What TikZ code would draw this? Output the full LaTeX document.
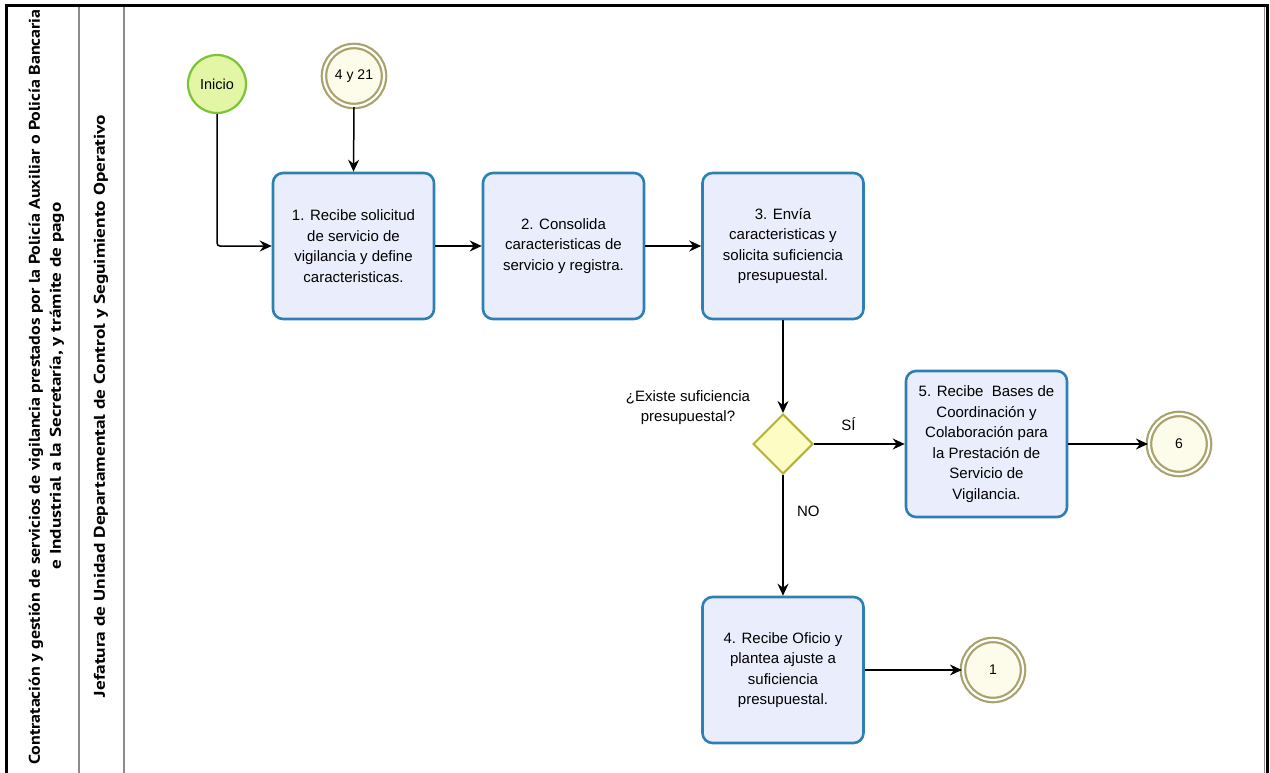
\documentclass[tikz,border=0pt]{standalone}
\usepackage{fontspec}
\usepackage{graphicx}
\setmainfont{Liberation Sans}
\newfontfamily\lanefont{PT Sans}
\usetikzlibrary{arrows.meta,shapes.geometric}

\definecolor{taskfill}{HTML}{EAEEFC}
\definecolor{taskline}{HTML}{2E80B4}
\definecolor{gatefill}{HTML}{FDFCC4}
\definecolor{gateline}{HTML}{B5B233}
\definecolor{endfill}{HTML}{FDFBEA}
\definecolor{endline}{HTML}{A8A36C}
\definecolor{startfill}{HTML}{E2F6A6}
\definecolor{startline}{HTML}{7CC434}
\definecolor{laneline}{HTML}{8C8C8C}

\tikzset{
  task/.style={draw=taskline, fill=taskfill, line width=2.6pt, rounded corners=10pt,
    minimum width=161pt, minimum height=146pt, align=center, inner sep=0pt,
    font=\fontsize{15}{20.5}\selectfont},
  startev/.style={circle, draw=startline, fill=startfill, line width=2.2pt,
    minimum size=58pt, inner sep=0pt, font=\fontsize{14.5}{16}\selectfont},
  linkev/.style={circle, draw=endline, fill=endfill, line width=2.2pt,
    minimum size=60pt, inner sep=0pt, double=white, double distance=2.2pt,
    font=\fontsize{14}{16}\selectfont},
  gateway/.style={diamond, draw=gateline, fill=gatefill, line width=2pt,
    minimum width=60pt, minimum height=60pt, inner sep=0pt, aspect=1},
  flow/.style={line width=1.5pt, -{Stealth[length=12pt,width=11pt,inset=4pt]}},
  lbl/.style={font=\fontsize{15}{20}\selectfont, align=center},
  lanetitle/.style={rotate=90, inner sep=0pt, font=\lanefont\bfseries\fontsize{15.5}{17}\selectfont},
}

\begin{document}
\begin{tikzpicture}[x=1pt,y=-1pt]
\useasboundingbox (0,0) rectangle (1270,773);
\fill[white] (0,0) rectangle (1270,773);

% pool and lane frame
\draw[laneline, line width=1.6pt] (79,6) -- (79,773);
\draw[laneline, line width=1.6pt] (124,6) -- (124,773);
\draw[black, line width=3pt] (6,773) -- (6,5.5) -- (1267,5.5) -- (1267,773);
\draw[laneline, line width=1pt] (1264.5,7) -- (1264.5,773);

% pool and lane titles
\node[lanetitle] (pooltitleA) at (36,387)
  {\resizebox{755pt}{\height}{Contratación y gestión de servicios de vigilancia prestados por la Policía Auxiliar o Policía Bancaria}};
\node[lanetitle] (pooltitleB) at (57,386)
  {\resizebox{367pt}{\height}{e Industrial a la Secretaría, y trámite de pago}};
\node[lanetitle] (lanetitle) at (101,406)
  {\resizebox{582pt}{\height}{Jefatura de Unidad Departamental de Control y Seguimiento Operativo}};

% events
\node[startev] (inicio) at (217,84) {Inicio};
\node[linkev] (link421) at (354,76) {4 y 21};
\node[linkev] (link6) at (1179,444) {6};
\node[linkev] (link1) at (993,670) {1};

% tasks
\node[task] (t1) at (353.5,246) {1. Recibe solicitud\\de servicio de\\vigilancia y define\\caracteristicas.};
\node[task] (t2) at (563.5,246) {2. Consolida\\caracteristicas de\\servicio y registra.};
\node[task] (t3) at (783,246) {3. Envía\\caracteristicas y\\solicita suficiencia\\presupuestal.};
\node[task] (t5) at (986.5,444) {5. Recibe~ Bases de\\Coordinación y\\Colaboración para\\la Prestación de\\Servicio de\\Vigilancia.};
\node[task] (t4) at (783,670) {4. Recibe Oficio y\\plantea ajuste a\\suficiencia\\presupuestal.};

% gateway
\node[gateway] (gw) at (783,444) {};
\node[lbl] (gwlabel) at (688,408) {¿Existe suficiencia\\presupuestal?};

% sequence flows
\draw[flow, rounded corners=3pt] (inicio.south) |- (t1.west);
\draw[flow] (link421.south) -- (t1.north);
\draw[flow] (t1.east) -- (t2.west);
\draw[flow] (t2.east) -- (t3.west);
\draw[flow] (t3.south) -- (gw.north);
\draw[flow] (gw.east) -- node[lbl, above=9pt, pos=0.38] (si) {SÍ} (t5.west);
\draw[flow] (gw.south) -- node[lbl, right=10pt, pos=0.3] (no) {NO} (t4.north);
\draw[flow] (t5.east) -- (link6.west);
\draw[flow] (t4.east) -- (link1.west);
\end{tikzpicture}
\end{document}
